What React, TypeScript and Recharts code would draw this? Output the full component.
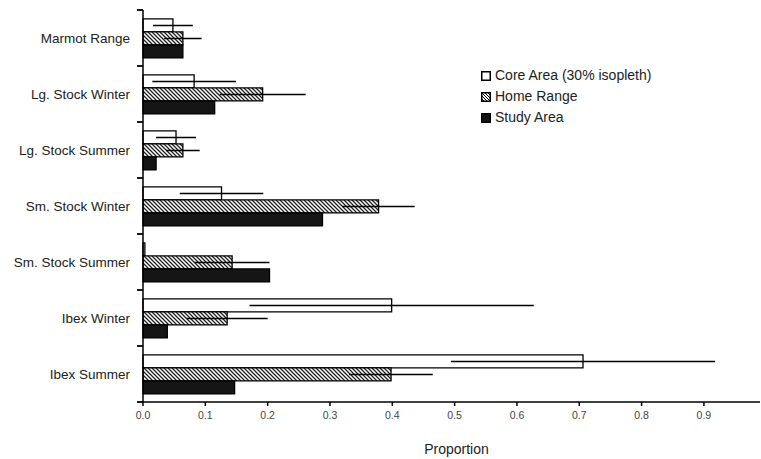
import React from 'react';
import { BarChart, Bar, XAxis, YAxis, ErrorBar } from 'recharts';

const categories = [
  'Marmot Range',
  'Lg. Stock Winter',
  'Lg. Stock Summer',
  'Sm. Stock Winter',
  'Sm. Stock Summer',
  'Ibex Winter',
  'Ibex Summer',
];
const coreArea = [0.048, 0.082, 0.053, 0.126, 0.003, 0.399, 0.706];
const coreErr = [0.032, 0.067, 0.032, 0.067, 0, 0.228, 0.212];
const homeRange = [0.064, 0.192, 0.064, 0.378, 0.143, 0.135, 0.398];
const homeErr = [0.03, 0.069, 0.027, 0.058, 0.06, 0.065, 0.067];
const studyArea = [0.064, 0.115, 0.021, 0.288, 0.203, 0.039, 0.147];
const xTicks = [0, 0.1, 0.2, 0.3, 0.4, 0.5, 0.6, 0.7, 0.8, 0.9];
const seriesNames = ['Core Area (30% isopleth)', 'Home Range', 'Study Area'];

const data = categories.map((name, i) => ({
  name,
  core: coreArea[i],
  coreErr: coreErr[i],
  home: homeRange[i],
  homeErr: homeErr[i],
  study: studyArea[i],
}));

const FONT = '"Liberation Sans", Arial, Helvetica, sans-serif';
const TICK_SIZE = 5;
const TICK_MARGIN = 8;

const CategoryTick = (props: any) => {
  const { x, y, payload, index } = props;
  const off = payload?.offset ?? 0;
  const lx1 = x + TICK_MARGIN - 1;
  const lx2 = x + TICK_MARGIN + TICK_SIZE;
  return (
    <g>
      <line x1={lx1} x2={lx2} y1={y - off} y2={y - off} stroke="#000" strokeWidth={1.8} />
      {index === categories.length - 1 && (
        <line x1={lx1} x2={lx2} y1={y + off} y2={y + off} stroke="#000" strokeWidth={1.8} />
      )}
      <text x={x} y={y} dy="0.355em" textAnchor="end" fontSize={13.5} fill="#222" fontFamily={FONT}>
        {payload.value}
      </text>
    </g>
  );
};

const LegendBox = () => (
  <div
    style={{
      position: 'absolute',
      left: 481,
      top: 65,
      fontFamily: FONT,
      fontSize: 14,
      color: '#222',
      lineHeight: '21px',
    }}
  >
    {seriesNames.map((n, i) => (
      <div key={n} style={{ display: 'flex', alignItems: 'center', height: 21 }}>
        <svg width={10} height={10} style={{ marginRight: 4 }}>
          <defs>
            <pattern id={`lh${i}`} patternUnits="userSpaceOnUse" width={3} height={3}>
              <rect width={3} height={3} fill="#fff" />
              <path d="M0,0 L3,3 M-1,2 L1,4 M2,-1 L4,1" stroke="#000" strokeWidth={1} />
            </pattern>
          </defs>
          <rect
            x={0.75}
            y={0.75}
            width={8.5}
            height={8.5}
            fill={i === 0 ? '#fff' : i === 1 ? `url(#lh${i})` : '#151515'}
            stroke="#000"
            strokeWidth={1.5}
          />
        </svg>
        <span>{n}</span>
      </div>
    ))}
  </div>
);

export default function App() {
  return (
    <div style={{ position: 'absolute', left: 0, top: 0, width: 761, height: 459, background: '#fff' }}>
      <BarChart
        width={761}
        height={459}
        data={data}
        layout="vertical"
        margin={{ top: 10, right: 1, left: 8, bottom: 0 }}
        barCategoryGap="16%"
        barGap={0}
      >
        <defs>
          <pattern id="hatch" patternUnits="userSpaceOnUse" width={4} height={4}>
            <rect width={4} height={4} fill="#fff" />
            <path d="M0,0 L4,4 M-1,3 L1,5 M3,-1 L5,1" stroke="#222" strokeWidth={1.3} />
          </pattern>
        </defs>
        <XAxis
          type="number"
          domain={[0, 0.99]}
          ticks={xTicks}
          tickFormatter={(v: number) => v.toFixed(1)}
          height={57}
          axisLine={{ stroke: '#000', strokeWidth: 1.5 }}
          tickLine={{ stroke: '#000', strokeWidth: 1.5 }}
          tickSize={4}
          tickMargin={6}
          tick={{ fontSize: 10.5, fill: '#444', fontFamily: FONT }}
          label={{
            value: 'Proportion',
            position: 'insideBottom',
            offset: 5,
            dx: 5,
            style: { fontSize: 14, fill: '#222', fontFamily: FONT },
          }}
        />
        <YAxis
          type="category"
          dataKey="name"
          width={135}
          axisLine={{ stroke: '#000', strokeWidth: 1.5 }}
          tickLine={false}
          tickSize={TICK_SIZE}
          tickMargin={TICK_MARGIN}
          tick={<CategoryTick />}
          interval={0}
        />
        <Bar dataKey="core" name={seriesNames[0]} fill="#ffffff" stroke="#000" strokeWidth={1.3} isAnimationActive={false}>
          <ErrorBar dataKey="coreErr" direction="x" width={0} stroke="#000" strokeWidth={1.5} />
        </Bar>
        <Bar dataKey="home" name={seriesNames[1]} fill="url(#hatch)" stroke="#000" strokeWidth={1.3} isAnimationActive={false}>
          <ErrorBar dataKey="homeErr" direction="x" width={0} stroke="#000" strokeWidth={1.5} />
        </Bar>
        <Bar dataKey="study" name={seriesNames[2]} fill="#151515" stroke="#000" strokeWidth={1.3} isAnimationActive={false} />
      </BarChart>
      <LegendBox />
    </div>
  );
}
